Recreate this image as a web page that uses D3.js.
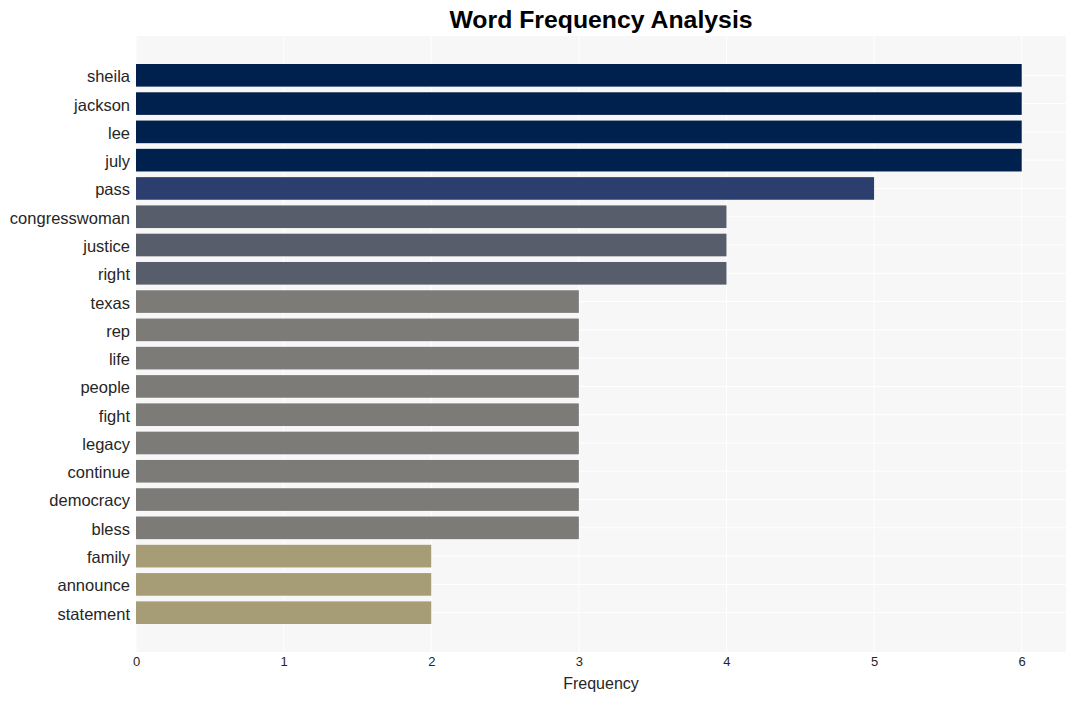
<!DOCTYPE html>
<html><head><meta charset="utf-8">
<script src="https://cdn.jsdelivr.net/npm/d3@7"></script>
<style>body{margin:0;background:#fff}svg{display:block}text{font-family:"Liberation Sans",Arial,sans-serif}</style>
</head><body><svg id="c" width="1075" height="701"></svg>
<script>
const words = ["sheila","jackson","lee","july","pass","congresswoman","justice","right","texas","rep","life","people","fight","legacy","continue","democracy","bless","family","announce","statement"];
const counts = [6,6,6,6,5,4,4,4,3,3,3,3,3,3,3,3,3,2,2,2];
const xTicks = [0,1,2,3,4,5,6];
const colorByCount = {6:"#00214e",5:"#2b3e6e",4:"#585d6c",3:"#7c7b78",2:"#a69c75"};

const svg = d3.select("#c");
const L=136,R=1066,T=36,B=652;
const x = d3.scaleLinear().domain([0,6.3]).range([L,R]);
const y = d3.scaleBand().domain(words).range([T,B]).paddingInner(0.2).paddingOuter(0.99);

svg.append("rect").attr("x",L).attr("y",T).attr("width",R-L).attr("height",B-T).attr("fill","#f7f7f7");
svg.append("g").selectAll("line").data(xTicks).join("line")
  .attr("x1",d=>x(d)).attr("x2",d=>x(d)).attr("y1",T).attr("y2",B)
  .attr("stroke","#ffffff").attr("stroke-width",1);
svg.append("g").selectAll("line").data(words).join("line")
  .attr("x1",L).attr("x2",R).attr("y1",d=>y(d)+y.bandwidth()/2).attr("y2",d=>y(d)+y.bandwidth()/2)
  .attr("stroke","#ffffff").attr("stroke-width",1);

svg.append("g").selectAll("rect").data(words).join("rect")
  .attr("x",x(0)).attr("y",d=>y(d)).attr("height",y.bandwidth())
  .attr("width",(d,i)=>x(counts[i])-x(0))
  .attr("fill",(d,i)=>colorByCount[counts[i]]);

const ya = d3.axisLeft(y).tickSize(0).tickPadding(6);
svg.append("g").attr("transform",`translate(${L},0)`).call(ya)
  .call(g=>g.select(".domain").remove())
  .selectAll("text").attr("font-size","16.5px").attr("dy","0.42em").attr("fill","#262626").attr("font-family","'Liberation Sans',Arial,sans-serif");

const xa = d3.axisBottom(x).tickValues(xTicks).tickFormat(d3.format("d")).tickSize(0).tickPadding(5);
svg.append("g").attr("transform",`translate(0,${B})`).call(xa)
  .call(g=>g.select(".domain").remove())
  .selectAll("text").attr("font-size","13px").attr("fill","#262626").attr("font-family","'Liberation Sans',Arial,sans-serif");

svg.append("text").attr("x",(L+R)/2).attr("y",689).attr("text-anchor","middle")
  .attr("font-size","16px").attr("fill","#262626").text("Frequency");
svg.append("text").attr("x",(L+R)/2).attr("y",28).attr("text-anchor","middle")
  .attr("font-size","24.8px").attr("font-weight","bold").attr("fill","#000").text("Word Frequency Analysis");
</script></body></html>
